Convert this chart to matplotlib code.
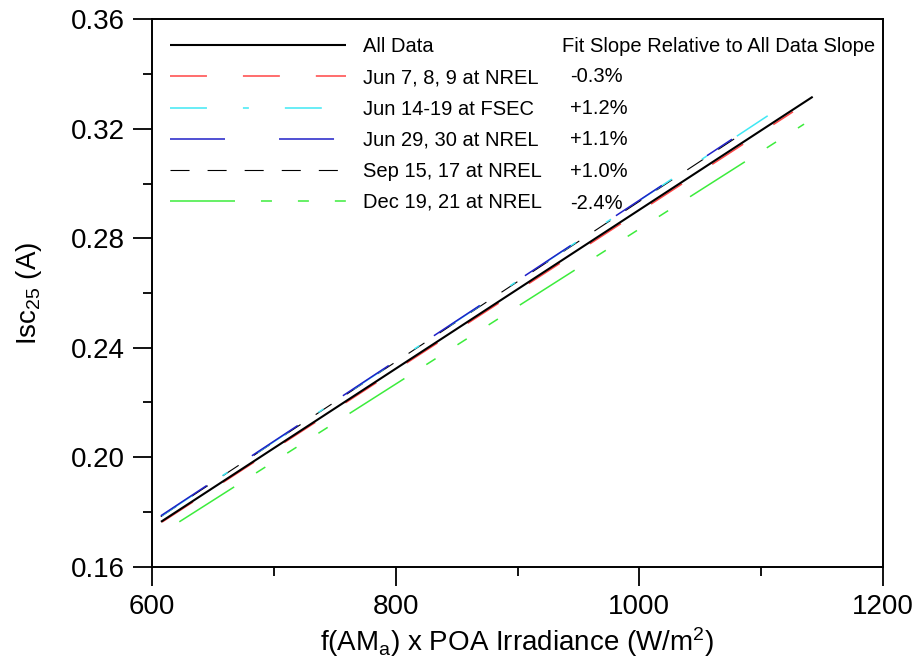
import matplotlib
matplotlib.use("Agg")
import matplotlib.pyplot as plt
from matplotlib.lines import Line2D

plt.rcParams['font.family'] = ['Liberation Sans', 'DejaVu Sans']
plt.rcParams['mathtext.fontset'] = 'custom'
plt.rcParams['mathtext.rm'] = 'Liberation Sans'
plt.rcParams['mathtext.it'] = 'Liberation Sans:italic'

# Data (fit lines)
labels = ["All Data", "Jun 7, 8, 9 at NREL", "Jun 14-19 at FSEC",
          "Jun 29, 30 at NREL", "Sep 15, 17 at NREL", "Dec 19, 21 at NREL"]
x_start = [607.1, 608.0, 607.7, 607.0, 607.0, 622.2]
x_end = [1142.5, 1126.3, 1106.4, 1076.2, 1090.0, 1135.4]
y_start = [0.1764, 0.1763, 0.1786, 0.1786, 0.1783, 0.1764]
y_end = [0.3317, 0.3262, 0.3250, 0.3162, 0.3198, 0.3217]
slope_pct = ["-0.3%", "+1.2%", "+1.1%", "+1.0%", "-2.4%"]

colors = ["black", "#ff4545", "#40e8f4", "#2020c8", "black", "#3cec3c"]
widths = [1.5, 1.1, 1.1, 1.1, 0.8, 1.1]
dashes = [None, (26.6, 25.9), (26.6, 25.9, 4.3, 25.9), (39.6, 38.9), (13.7, 13.0),
          (46.8, 18.7, 7.9, 18.7, 7.9, 18.7, 7.9, 18.7)]
zorders = [7, 5, 3, 4, 2, 6]

W, H = 920, 665
fig = plt.figure(figsize=(W / 100, H / 100), dpi=100)
L, R, T, B = 152.3, 882.7, 19.3, 566.7
ax = fig.add_axes([L / W, 1 - B / H, (R - L) / W, (B - T) / H])

handles = []
for i in range(len(labels)):
    kw = dict(color=colors[i], lw=widths[i], zorder=zorders[i], solid_capstyle='butt', dash_capstyle='butt')
    line, = ax.plot([x_start[i], x_end[i]], [y_start[i], y_end[i]], **kw)
    if dashes[i] is not None:
        line.set_dashes([d / widths[i] for d in dashes[i]])
    h = Line2D([0], [0], **kw)
    if dashes[i] is not None:
        h.set_dashes([d / widths[i] for d in dashes[i]])
    handles.append(h)

ax.set_xlim(600, 1200)
ax.set_ylim(0.16, 0.36)
ax.set_xticks([600, 800, 1000, 1200])
ax.set_xticks([700, 900, 1100], minor=True)
ax.set_yticks([0.16, 0.20, 0.24, 0.28, 0.32, 0.36])
ax.set_yticks([0.18, 0.22, 0.26, 0.30, 0.34], minor=True)
ax.set_yticklabels(["0.16", "0.20", "0.24", "0.28", "0.32", "0.36"])
ax.tick_params(which='major', direction='out', length=13.5, width=1.3, labelsize=20, pad=6)
ax.tick_params(which='minor', direction='out', length=6.5, width=1.3)
ax.tick_params(top=False, right=False)
for s in ax.spines.values():
    s.set_linewidth(1.4)

ax.set_xlabel(r"f(AM$_\mathrm{a}$) x POA Irradiance (W/m$^\mathrm{2}$)", fontsize=20, labelpad=4)
ax.set_ylabel(r"Isc$_\mathrm{25}$ (A)", fontsize=20, labelpad=19.5)

leg = ax.legend(handles, labels, loc='upper left', bbox_to_anchor=(0.0, 1.0),
                frameon=False, fontsize=14.5, handlelength=8.7, handletextpad=0.85,
                labelspacing=0.6, borderaxespad=0.4, borderpad=0.5)

fig.text(561.7 / W, 1 - 46 / H, "Fit Slope Relative to All Data Slope", fontsize=14.5,
         ha='left', va='center')
rows = [76.5, 108, 139.5, 171.5, 203]
for p, yy in zip(slope_pct, rows):
    fig.text(570 / W, 1 - yy / H, p, fontsize=14.5, ha='left', va='center')

fig.savefig("out.png", dpi=100)
